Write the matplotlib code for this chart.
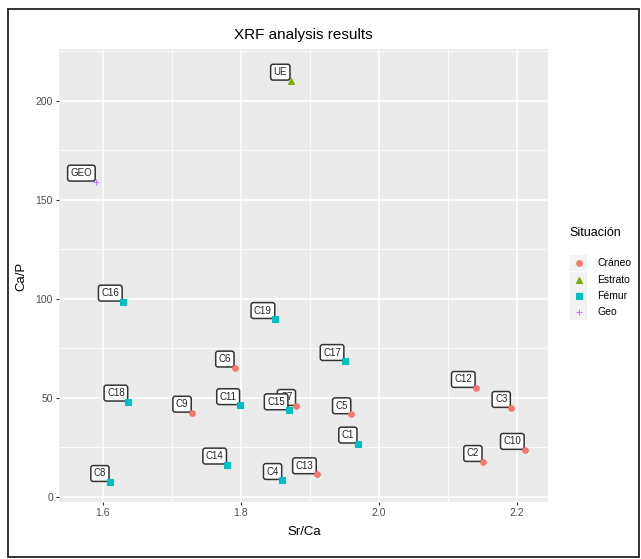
import matplotlib.pyplot as plt
from matplotlib.patches import Rectangle
from matplotlib.lines import Line2D

# Data
names = ['C1', 'C2', 'C3', 'C4', 'C5', 'C6', 'C7', 'C8', 'C9', 'C10',
         'C11', 'C12', 'C13', 'C14', 'C15', 'C16', 'C17', 'C18', 'C19',
         'UE', 'GEO']
sr_ca = [1.969, 2.150, 2.191, 1.860, 1.960, 1.791, 1.880, 1.610, 1.729, 2.211,
         1.799, 2.140, 1.910, 1.780, 1.869, 1.629, 1.950, 1.637, 1.850,
         1.872, 1.590]
ca_p = [26.8, 17.5, 44.8, 8.4, 41.6, 65.2, 45.8, 7.4, 42.4, 23.6,
        46.2, 54.9, 11.3, 16.2, 43.6, 98.5, 68.5, 48.0, 89.7,
        210.1, 159.1]
situacion = ['Fémur', 'Cráneo', 'Cráneo', 'Fémur', 'Cráneo', 'Cráneo', 'Cráneo',
             'Fémur', 'Cráneo', 'Cráneo', 'Fémur', 'Cráneo', 'Cráneo', 'Fémur',
             'Fémur', 'Fémur', 'Fémur', 'Fémur', 'Fémur', 'Estrato', 'Geo']

groups = ['Cráneo', 'Estrato', 'Fémur', 'Geo']
colors = {'Cráneo': '#F8766D', 'Estrato': '#7CAE00', 'Fémur': '#00BFC4', 'Geo': '#C77CFF'}
markers = {'Cráneo': 'o', 'Estrato': '^', 'Fémur': 's', 'Geo': '+'}

plt.rcParams['font.family'] = ['Liberation Sans', 'DejaVu Sans']

W, H = 641, 559
fig = plt.figure(figsize=(W / 100, H / 100), dpi=100)

def fx(px):
    return px / W

def fy(py):
    return 1 - py / H

# panel
ax = fig.add_axes([fx(59.3), fy(501.7), fx(548.3) - fx(59.3), fy(49.3) - fy(501.7)])
ax.set_facecolor('#EBEBEB')
for s in ax.spines.values():
    s.set_visible(False)
ax.set_xlim(1.537, 2.245)
ax.set_ylim(-2.5, 226)
ax.set_xticks([1.6, 1.8, 2.0, 2.2])
ax.set_xticklabels(['1.6', '1.8', '2.0', '2.2'])
ax.set_xticks([1.7, 1.9, 2.1], minor=True)
ax.set_yticks([0, 50, 100, 150, 200])
ax.set_yticks([25, 75, 125, 175, 225], minor=True)
ax.grid(which='major', color='white', linewidth=1.1)
ax.grid(which='minor', color='white', linewidth=0.55)
ax.set_axisbelow(True)
ax.tick_params(which='major', length=2.5, width=0.8, color='#333333',
               labelsize=7.5, labelcolor='#4D4D4D', pad=2)
ax.tick_params(which='minor', length=0)

# points
for g in groups:
    xs = [x for x, s in zip(sr_ca, situacion) if s == g]
    ys = [y for y, s in zip(ca_p, situacion) if s == g]
    ax.plot(xs, ys, linestyle='none', marker=markers[g], color=colors[g],
            markersize=4 if g != 'Geo' else 5, markeredgewidth=0.8, zorder=4)

# labels
for n, x, y in zip(names, sr_ca, ca_p):
    ax.annotate(n, xy=(x, y), xytext=(-2.6, 2.6), textcoords='offset points',
                ha='right', va='bottom', fontsize=7, color='#222222', zorder=3,
                bbox=dict(boxstyle='round,pad=0.3,rounding_size=0.25', fc='white',
                          ec='#333333', lw=1.1))

# titles
fig.text(fx(303.8), fy(35), 'XRF analysis results', ha='center', va='center',
         fontsize=11, color='black')
fig.text(fx(303.8), fy(532), 'Sr/Ca', ha='center', va='center', fontsize=9.5)
fig.text(fx(21.7), fy(276), 'Ca/P', ha='center', va='center', fontsize=9.5, rotation=90)

# legend
fig.text(fx(569), fy(232.7), 'Situación', ha='left', va='center', fontsize=9)
entry_y = [263, 280, 296, 312]
for g, py in zip(groups, entry_y):
    fig.add_artist(Rectangle((fx(570), fy(py + 8)), fx(16.5), fy(0) - fy(16.5),
                             transform=fig.transFigure, facecolor='#F2F2F2',
                             edgecolor='none'))
    fig.add_artist(Line2D([fx(578.5)], [fy(py)], transform=fig.transFigure,
                          linestyle='none', marker=markers[g], color=colors[g],
                          markersize=4 if g != 'Geo' else 5, markeredgewidth=0.8))
    fig.text(fx(597), fy(py), g, ha='left', va='center', fontsize=7.5, color='black')

# outer frame
fig.add_artist(Rectangle((fx(8), fy(557)), fx(631) , fy(9) - fy(557),
                         transform=fig.transFigure, fill=False,
                         edgecolor='#222222', linewidth=1.3))

fig.savefig('out.png', dpi=100)
